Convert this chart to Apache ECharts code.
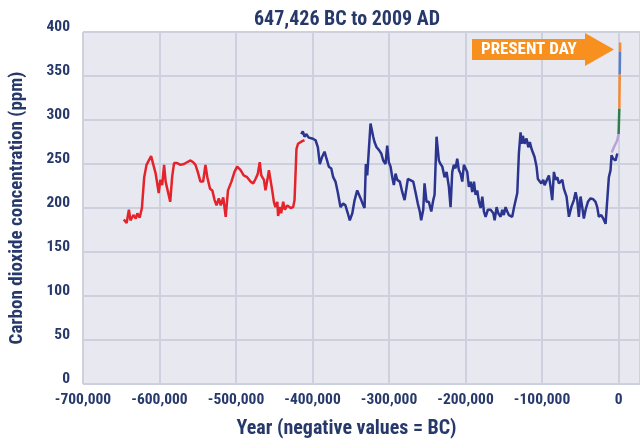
<!DOCTYPE html>
<html>
<head>
<meta charset="utf-8">
<script src="https://cdn.jsdelivr.net/npm/echarts@6/dist/echarts.min.js"></script>
<style>
html,body{margin:0;padding:0;background:#fff;}
#c{width:640px;height:444px;}
</style>
</head>
<body>
<div id="c"></div>
<script>
// ---- Data ----
const titleText = '647,426 BC to 2009 AD';
const yAxisName = 'Carbon dioxide concentration (ppm)';
const xAxisName = 'Year (negative values = BC)';
const presentLabel = 'PRESENT DAY';

// Older ice core record (red)
const redYears = [-646700,-643000,-640000,-638000,-634000,-631000,-629000,-626000,-623000,-620000,-617000,-611000,-609500,-605000,-601000,-599000,-596500,-594000,-592000,-586000,-583500,-581000,-577000,-572500,-570000,-568000,-564000,-559500,-556000,-553000,-550000,-546500,-543000,-540000,-537500,-534000,-531000,-528000,-525500,-522500,-520000,-516700,-513500,-510500,-506000,-502000,-498500,-494000,-490000,-485500,-481000,-477500,-474500,-471500,-469000,-467000,-463500,-461500,-459000,-457000,-455000,-452700,-450500,-448500,-446000,-445000,-442700,-441000,-438300,-436200,-433000,-428700,-425300,-423500,-421000,-419000,-416600,-413500,-410500];
const redPpm = [187,183,198,186,192,188,194,189,200,235,249,259,258,239,217,232,226,249,230,207,235,251,251,249,247,250,252,254,252,249,241,230,230,249,235,222,220,209,203,211,203,212,190,220,230,241,247,243,237,235,230,228,233,239,252,237,232,220,232,243,243,220,207,201,207,191,201,194,207,198,203,200,201,209,267,273,271,276,277];

// Vostok ice core record (blue)
const blueYears = [-414800,-412700,-410500,-408300,-405000,-400500,-396000,-393000,-390500,-387500,-384300,-381700,-378700,-375500,-373000,-370000,-367000,-363500,-360000,-357000,-353900,-351300,-348000,-345000,-341600,-339000,-336300,-333700,-332000,-330300,-328500,-326400,-324200,-322000,-320700,-319000,-316300,-313300,-310200,-307600,-304600,-302400,-300300,-298000,-295800,-293700,-291500,-289300,-285900,-282700,-279700,-277100,-275400,-272800,-268400,-265400,-262400,-259800,-258000,-255300,-253600,-251000,-248000,-244800,-242200,-240500,-237900,-234900,-232700,-230400,-227400,-224800,-221800,-219600,-217400,-215300,-213100,-210900,-208700,-206500,-204300,-202200,-200000,-197800,-195600,-193400,-191200,-189000,-186900,-184700,-182500,-180300,-178100,-176000,-173800,-170800,-167300,-163700,-162000,-159400,-157200,-154200,-152000,-150000,-147700,-145500,-143400,-141200,-139000,-136800,-134600,-132400,-130300,-128100,-126800,-125100,-122900,-120300,-118000,-116000,-113700,-111500,-109800,-107200,-105500,-102900,-101000,-98400,-96700,-94100,-91100,-88900,-86700,-84500,-82300,-80100,-78000,-75800,-73600,-71500,-68000,-64900,-61800,-58400,-56200,-54000,-51900,-49700,-47500,-45400,-43100,-40100,-36600,-33100,-30100,-27900,-25800,-22600,-20000,-17000,-14800,-12700,-10500,-9200,-7000,-5200,-3900,-1700];
const bluePpm = [284,287,281,284,280,279,277,269,250,258,264,256,247,245,235,230,218,201,205,203,194,186,194,209,220,221,209,203,200,250,237,266,296,298,281,275,269,266,262,254,250,271,252,247,235,226,239,232,230,218,209,211,233,232,230,218,205,196,186,198,228,207,207,196,209,215,281,254,250,247,235,241,224,201,241,249,245,256,243,239,230,249,250,241,224,230,218,230,215,220,207,200,213,196,190,198,198,194,186,201,194,190,198,192,201,196,192,194,190,200,201,217,262,286,273,282,273,279,269,275,267,269,258,247,233,235,228,232,226,228,237,224,209,241,232,235,228,226,232,222,213,190,201,209,218,209,190,213,201,188,198,207,211,210,207,201,190,192,188,182,209,235,243,260,256,258,254,262];

// Recent ice core record (lilac)
const lilacYears = [-9000,-6100,-3900,-1700,0];
const lilacPpm = [263,269,271,277,284];

// Modern segments at present day
const greenYears = [0,1000];
const greenPpm = [284,313];
const orangeYears1 = [1000,1500];
const orangePpm1 = [313,352];
const steelYears = [1500,1900];
const steelPpm = [352,378];
const orangeYears2 = [1900,2009];
const orangePpm2 = [378,388];

// Axis ticks
const xMin = -700000, xMax = 28000, xStep = 100000;
const yMin = 0, yMax = 400, yStep = 50;

// ---- Chart ----
const pair = (xs, ys) => xs.map((x, i) => [x, ys[i]]);
const NAVY = '#27396B';
const FAM = "Roboto, 'Open Sans', sans-serif";
const W = 'bold condensed';

function lineSeries(name, xs, ys, color, w) {
  return {
    name, type: 'line', data: pair(xs, ys), showSymbol: false, symbol: 'none',
    lineStyle: { color, width: w || 2.5 }, itemStyle: { color },
    animation: false, silent: true, z: 3
  };
}

const chart = echarts.init(document.getElementById('c'), null, { renderer: 'canvas' });
chart.setOption({
  backgroundColor: '#ffffff',
  animation: false,
  grid: {
    left: 83, right: 0, top: 32, bottom: 59,
    show: true, backgroundColor: '#E8E9F0', borderWidth: 0
  },
  xAxis: {
    type: 'value', min: xMin, max: xMax, interval: xStep,
    name: xAxisName, nameLocation: 'middle', nameGap: 35,
    nameTextStyle: { color: NAVY, fontFamily: FAM, fontStyle: 'normal', fontWeight: W, fontSize: 20, padding: [0, 30, 0, 0] },
    axisLine: { show: false }, axisTick: { show: false },
    axisLabel: {
      color: NAVY, fontFamily: FAM, fontStyle: 'normal', fontWeight: W, fontSize: 15.5, margin: 8,
      showMaxLabel: false,
      formatter: v => (v % xStep === 0 ? v.toLocaleString('en-US') : '')
    },
    splitLine: { show: true, lineStyle: { color: '#CDD0DD', width: 2 } }
  },
  yAxis: {
    type: 'value', min: yMin, max: yMax, interval: yStep,
    name: yAxisName, nameLocation: 'middle', nameGap: 56, nameRotate: 90,
    nameTextStyle: { color: NAVY, fontFamily: FAM, fontStyle: 'normal', fontWeight: W, fontSize: 19 },
    axisLine: { show: false }, axisTick: { show: false },
    axisLabel: {
      color: NAVY, fontFamily: FAM, fontStyle: 'normal', fontWeight: W, fontSize: 15.5, margin: 13,
      verticalAlign: 'bottom', lineHeight: 10
    },
    splitLine: { show: true, lineStyle: { color: '#CDD0DD', width: 2 } }
  },
  graphic: [
    {
      type: 'text', z: 11, x: 347, y: 20,
      style: { text: titleText, fill: NAVY, font: "bold condensed 20px Roboto, 'Open Sans', sans-serif",
               textAlign: 'center', textVerticalAlign: 'middle' }
    },
    {
      type: 'polygon', z: 10,
      shape: { points: [[472,39],[585,39],[585,33],[614,49.5],[585,66],[585,60],[472,60]] },
      style: { fill: '#F7901E' }
    },
    {
      type: 'text', z: 11, x: 481, y: 50,
      style: { text: presentLabel, fill: '#ffffff', font: "bold condensed 17px Roboto, 'Open Sans', sans-serif",
               textVerticalAlign: 'middle' }
    }
  ],
  series: [
    lineSeries('red', redYears, redPpm, '#E4232B'),
    lineSeries('blue', blueYears, bluePpm, '#2B3590'),
    lineSeries('lilac', lilacYears, lilacPpm, '#B9A0D8'),
    lineSeries('green', greenYears, greenPpm, '#2E7D4F', 2.5),
    lineSeries('orange1', orangeYears1, orangePpm1, '#F58A33', 2.5),
    lineSeries('steel', steelYears, steelPpm, '#5B7FC5', 2.5),
    lineSeries('orange2', orangeYears2, orangePpm2, '#F58A33', 2.5)
  ]
});
</script>
</body>
</html>
